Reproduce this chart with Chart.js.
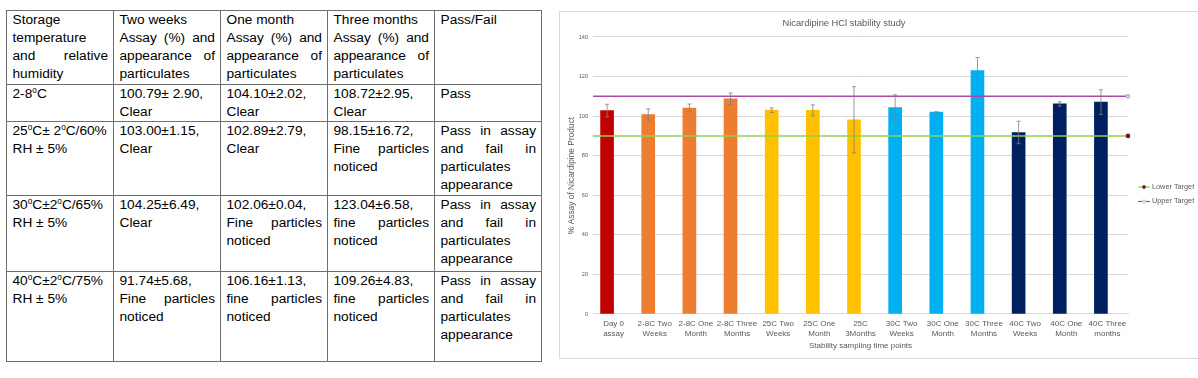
<!DOCTYPE html>
<html>
<head>
<meta charset="utf-8">
<script src="https://cdn.jsdelivr.net/npm/chart.js@4.4.1/dist/chart.umd.min.js"></script>
<style>
  body { margin: 0; width: 1198px; height: 378px; background: #fff; overflow: hidden; position: relative;
         font-family: 'Liberation Sans', Arial, sans-serif; }
  table { position: absolute; left: 6px; top: 10px; border-collapse: collapse; table-layout: fixed; width: 536px;
          font-size: 13.7px; line-height: 18px; color: #000; }
  td { border: 1px solid #6f6f6f; padding: 0 5px 0 5.5px; vertical-align: top; text-align: justify; }
  td.nw { white-space: nowrap; text-align: left; }
  sup { font-size: 0.6em; line-height: 0; vertical-align: 0.55em; }
  #panel { position: absolute; left: 559px; top: 11px; width: 660px; height: 348px; border: 1px solid #d9d9d9; box-sizing: border-box; }
  #wrap { position: absolute; left: 560px; top: 12px; width: 638px; height: 346px; }
</style>
</head>
<body>
<table>
  <colgroup><col style="width:107px"><col style="width:107px"><col style="width:107px"><col style="width:107px"><col style="width:107px"></colgroup>
  <tr style="height:74px">
    <td>Storage temperature and relative humidity</td>
    <td>Two weeks<br>Assay (%) and appearance of particulates</td>
    <td>One month<br>Assay (%) and appearance of particulates</td>
    <td>Three months<br>Assay (%) and appearance of particulates</td>
    <td>Pass/Fail</td>
  </tr>
  <tr style="height:35px">
    <td class="nw">2-8<sup>o</sup>C</td>
    <td>100.79± 2.90,<br>Clear</td>
    <td>104.10±2.02,<br>Clear</td>
    <td>108.72±2.95,<br>Clear</td>
    <td>Pass</td>
  </tr>
  <tr style="height:74px">
    <td class="nw">25<sup>o</sup>C± 2<sup>o</sup>C/60%<br>RH ± 5%</td>
    <td>103.00±1.15,<br>Clear</td>
    <td>102.89±2.79,<br>Clear</td>
    <td>98.15±16.72,<br>Fine particles noticed</td>
    <td>Pass in assay and fail in particulates appearance</td>
  </tr>
  <tr style="height:76px">
    <td class="nw">30<sup>o</sup>C±2<sup>o</sup>C/65%<br>RH ± 5%</td>
    <td>104.25±6.49,<br>Clear</td>
    <td>102.06±0.04,<br>Fine particles noticed</td>
    <td>123.04±6.58,<br>fine particles noticed</td>
    <td>Pass in assay and fail in particulates appearance</td>
  </tr>
  <tr style="height:90px">
    <td class="nw">40<sup>o</sup>C±2<sup>o</sup>C/75%<br>RH ± 5%</td>
    <td>91.74±5.68,<br>Fine particles noticed</td>
    <td>106.16±1.13,<br>fine particles noticed</td>
    <td>109.26±4.83,<br>fine particles noticed</td>
    <td>Pass in assay and fail in particulates appearance</td>
  </tr>
</table>

<div id="panel"></div>
<div id="wrap"><canvas id="stabchart"></canvas></div>

<script>
// 图表数据
const categories = [
  ['Day 0', 'assay'], ['2-8C Two', 'Weeks'], ['2-8C One', 'Month'], ['2-8C Three', 'Months'],
  ['25C Two', 'Weeks'], ['25C One', 'Month'], ['25C', '3Months'],
  ['30C Two', 'Weeks'], ['30C One', 'Month'], ['30C Three', 'Months'],
  ['40C Two', 'Weeks'], ['40C One', 'Month'], ['40C Three', 'months']
];
const assayMean = [102.8, 100.79, 104.10, 108.72, 103.00, 102.89, 98.15, 104.25, 102.06, 123.04, 91.74, 106.16, 107.1];
const assayError = [3.2, 2.90, 2.02, 2.95, 1.15, 2.79, 16.72, 6.49, 0.04, 6.58, 5.68, 1.13, 6.2];
const lowerTarget = 90;
const upperTarget = 110;
const yTicks = [0, 20, 40, 60, 80, 100, 120, 140];

const fontFamily = "'Liberation Sans', Arial, sans-serif";
const textGrey = '#595959';
const barColors = [
  '#C00000',
  '#ED7D31', '#ED7D31', '#ED7D31',
  '#FFC000', '#FFC000', '#FFC000',
  '#00B0F0', '#00B0F0', '#00B0F0',
  '#002060', '#002060', '#002060'
];

// error bars, drawn through the y scale
const errorBars = {
  id: 'errorBars',
  afterDatasetsDraw(chart) {
    const meta = chart.getDatasetMeta(0);
    const y = chart.scales.y;
    const ctx = chart.ctx;
    ctx.save();
    ctx.strokeStyle = '#7f7f7f';
    ctx.lineWidth = 0.8;
    meta.data.forEach((bar, i) => {
      const top = y.getPixelForValue(assayMean[i] + assayError[i]);
      const bot = y.getPixelForValue(assayMean[i] - assayError[i]);
      ctx.beginPath();
      ctx.moveTo(bar.x, top); ctx.lineTo(bar.x, bot);
      ctx.moveTo(bar.x - 2, top); ctx.lineTo(bar.x + 2, top);
      ctx.moveTo(bar.x - 2, bot); ctx.lineTo(bar.x + 2, bot);
      ctx.stroke();
    });
    ctx.restore();
  }
};

// excel-like legend (line with marker), only the two targets
const targetLegend = {
  id: 'targetLegend',
  afterDraw(chart) {
    const ctx = chart.ctx;
    const area = chart.chartArea;
    const x0 = area.right + 10;
    const y0 = (area.top + area.bottom) / 2 + 11.5;
    ctx.save();
    [1, 2].forEach((di, k) => {
      const ds = chart.data.datasets[di];
      const yy = y0 + k * 14.5;
      ctx.strokeStyle = ds.borderColor;
      ctx.lineWidth = 1.2;
      ctx.beginPath();
      ctx.moveTo(x0, yy); ctx.lineTo(x0 + 12, yy);
      ctx.stroke();
      ctx.beginPath();
      ctx.arc(x0 + 6, yy, 1.5, 0, Math.PI * 2);
      ctx.fillStyle = ds.pointBackgroundColor;
      ctx.fill();
      ctx.strokeStyle = ds.pointBorderColor;
      ctx.lineWidth = 0.8;
      ctx.stroke();
      ctx.fillStyle = textGrey;
      ctx.font = '7.3px ' + fontFamily;
      ctx.textBaseline = 'middle';
      ctx.fillText(ds.label, x0 + 14, yy);
    });
    ctx.restore();
  }
};

const chartData = {
  labels: categories,
  datasets: [
    {
      type: 'bar',
      label: 'Assay',
      data: assayMean,
      backgroundColor: barColors,
      barThickness: 13,
      order: 2
    },
    {
      type: 'line',
      label: 'Lower Target',
      xAxisID: 'xt',
      data: [{ x: 0, y: lowerTarget }, { x: 1, y: lowerTarget }],
      borderColor: '#92D050',
      borderWidth: 1.5,
      pointRadius: [0, 1.6],
      pointBackgroundColor: '#6B1F1F',
      pointBorderColor: '#6B1F1F',
      clip: 6,
      order: 1
    },
    {
      type: 'line',
      label: 'Upper Target',
      xAxisID: 'xt',
      data: [{ x: 0, y: upperTarget }, { x: 1, y: upperTarget }],
      borderColor: '#A64CA6',
      borderWidth: 1.5,
      pointRadius: [0, 1.6],
      pointBackgroundColor: '#ffffff',
      pointBorderColor: '#9FB4CC',
      clip: 6,
      order: 1
    }
  ]
};

const chartConfig = {
  type: 'bar',
  data: chartData,
  options: {
    responsive: true,
    maintainAspectRatio: false,
    animation: false,
    layout: { padding: { right: 70 } },
    plugins: {
      legend: { display: false },
      tooltip: { enabled: false },
      title: {
        display: true,
        text: 'Nicardipine HCl stability study',
        color: textGrey,
        font: { size: 9.3, family: fontFamily, weight: 'normal' },
        padding: { top: 5.4, bottom: 8.4 }
      }
    },
    scales: {
      x: {
        type: 'category',
        grid: { display: false, drawTicks: false },
        border: { color: '#d9d9d9' },
        ticks: { color: textGrey, font: { size: 8, family: fontFamily, lineHeight: 1.25 }, padding: 5, maxRotation: 0, autoSkip: false },
        title: { display: true, text: 'Stability sampling time points', color: textGrey,
                 font: { size: 8, family: fontFamily, lineHeight: 1.25 }, padding: { top: 0, bottom: 7 } },
        afterFit(s) { s.height = 44; }
      },
      xt: { type: 'linear', min: 0, max: 1, offset: false, display: false, grid: { offset: false } },
      y: {
        min: yTicks[0],
        max: yTicks[yTicks.length - 1],
        afterBuildTicks(s) { s.ticks = yTicks.map(v => ({ value: v })); },
        ticks: { color: textGrey, font: { size: 5.6, family: fontFamily }, padding: 5 },
        grid: { color: '#d9d9d9', drawTicks: false },
        border: { display: false },
        title: { display: true, text: '% Assay of Nicardipine Product', color: textGrey,
                 font: { size: 8.4, family: fontFamily, lineHeight: 1.2 }, padding: { top: 7, bottom: 0 } },
        afterFit(s) { s.width = 33; }
      }
    }
  },
  plugins: [errorBars, targetLegend]
};

let stabChart = new Chart(document.getElementById('stabchart'), chartConfig);
</script>
</body>
</html>
